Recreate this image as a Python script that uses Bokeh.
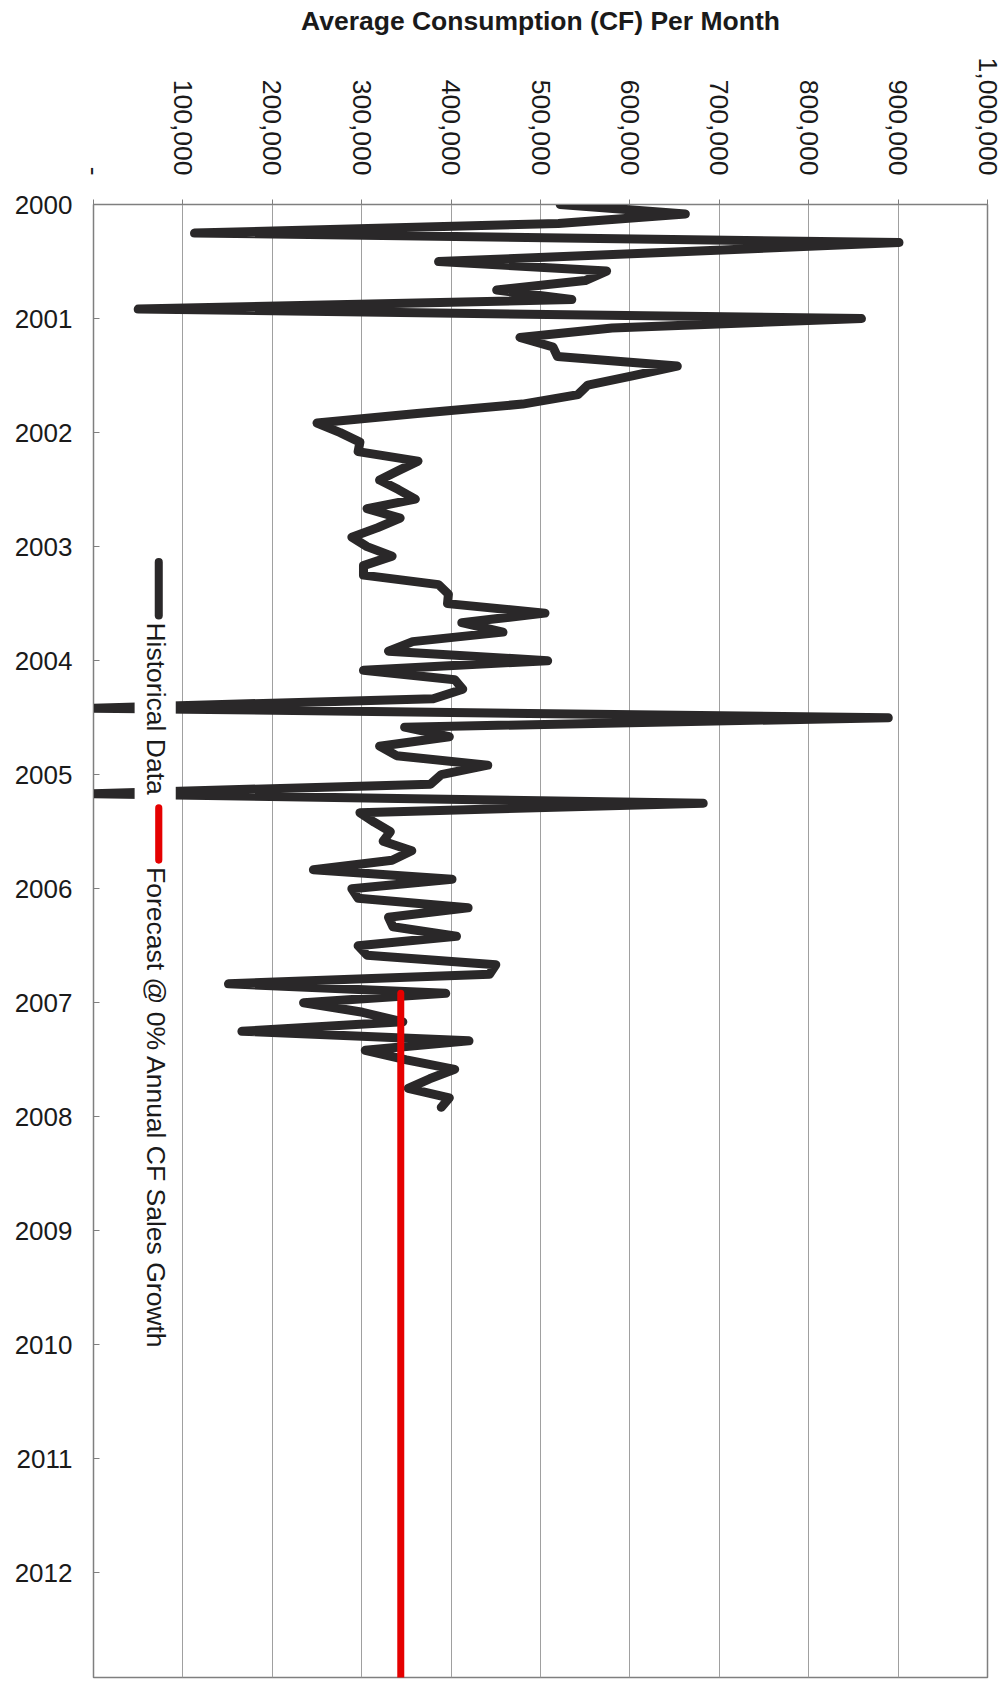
import math
import pandas as pd
from bokeh.plotting import figure
from bokeh.models import Range1d, FixedTicker, BoxAnnotation, Label
from bokeh.embed import file_html
from bokeh.resources import INLINE

# ---------------- data ----------------
hist_start = "2000-01"
hist_values = [
    522000, 662000, 520000, 113000, 901000, 650000, 386000, 574000, 550000, 451000, 535000, 50000,
    859000, 580000, 477000, 514000, 519000, 653000, 604000, 553000, 542000, 480000, 362000, 250000,
    276000, 298000, 296000, 363000, 341000, 320000, 341000, 360000, 306000, 343000, 318000, 289000,
    306000, 334000, 302000, 302000, 386000, 397000, 396000, 505000, 412000, 458000, 357000, 330000,
    508000, 302000, 404000, 413000, 380000, 0, 889000, 348000, 398000, 320000, 339000, 441000,
    389000, 377000, 0, 682000, 298000, 314000, 332000, 324000, 356000, 334000, 246000, 401000,
    289000, 296000, 419000, 330000, 335000, 406000, 296000, 306000, 450000, 443000, 151000, 394000,
    235000, 301000, 346000, 166000, 420000, 304000, 350000, 404000, 376000, 352000, 398000, 389000,
]
forecast_months = ["2006-12", "2012-12"]
forecast_values = [343700, 343700]

axis_start = "2000-01"
axis_end = "2012-12"
year_ticks = list(range(2000, 2013))
year_labels = [str(y) for y in year_ticks]
value_ticks = [0, 100000, 200000, 300000, 400000, 500000, 600000, 700000, 800000, 900000, 1000000]
value_labels = ["-", "100,000", "200,000", "300,000", "400,000", "500,000", "600,000",
                "700,000", "800,000", "900,000", "1,000,000"]
legend_labels = ["Historical Data", "Forecast @ 0% Annual CF Sales Growth"]
title_text = "Average Consumption (CF) Per Month"


def dec_year(ts):
    ts = pd.Timestamp(ts)
    return ts.year + (ts.month - 1) / 12.0


hist_months = pd.date_range(hist_start, periods=len(hist_values), freq="MS")
hist_y = [dec_year(t) for t in hist_months]
forecast_y = [dec_year(t) for t in forecast_months]

FONT = "Liberation Sans"
GRID = "#a0a0a0"
FRAME = "#7f7f7f"
TEXT = "#1a1a1a"

p = figure(
    width=1004, height=1680, title=None,
    x_range=Range1d(0, 1000000),
    y_range=Range1d(dec_year(axis_end), dec_year(axis_start)),
    x_axis_location="above",
    output_backend="svg", toolbar_location=None,
    min_border_left=93, min_border_right=17, min_border_top=204, min_border_bottom=3,
    background_fill_color="white", border_fill_color="white",
)

# top (value) axis with the chart's title as its label
xa = p.xaxis[0]
xa.axis_label = title_text
xa.axis_label_text_font = FONT
xa.axis_label_text_font_size = "26.5px"
xa.axis_label_text_font_style = "bold"
xa.axis_label_text_color = TEXT
xa.axis_label_standoff = 19
xa.ticker = FixedTicker(ticks=value_ticks)
xa.major_label_overrides = {v: l for v, l in zip(value_ticks, value_labels)}
xa.major_label_orientation = -math.pi / 2
xa.major_label_text_font = FONT
xa.major_label_text_font_size = "26.5px"
xa.major_label_text_color = TEXT
xa.major_label_standoff = 24
xa.major_tick_out = 5
xa.major_tick_in = 0
xa.minor_tick_out = 0
xa.minor_tick_in = 0
xa.axis_line_color = FRAME
xa.major_tick_line_color = FRAME

# left (date) axis
ya = p.yaxis[0]
ya.ticker = FixedTicker(ticks=year_ticks)
ya.major_label_overrides = {v: l for v, l in zip(year_ticks, year_labels)}
ya.major_label_text_font = FONT
ya.major_label_text_font_size = "26px"
ya.major_label_text_color = TEXT
ya.major_label_standoff = 21
ya.major_tick_in = 6
ya.major_tick_out = 0
ya.minor_tick_in = 0
ya.minor_tick_out = 0
ya.axis_line_color = FRAME
ya.major_tick_line_color = FRAME

p.xgrid.ticker = FixedTicker(ticks=value_ticks)
p.xgrid.grid_line_color = GRID
p.xgrid.grid_line_width = 1
p.ygrid.grid_line_color = None
p.outline_line_color = FRAME
p.outline_line_width = 1.5

# series
p.line(x=hist_values, y=hist_y, line_width=9, line_color="#2a2829",
       line_join="round", line_cap="round")
p.line(x=forecast_values, y=forecast_y, line_width=7, line_color="#e50000",
       line_cap="round")

# rotated legend (white box, samples, labels)
p.add_layout(BoxAnnotation(left=46000, right=92000, top=2003.03, bottom=2010.08,
                           fill_color="white", fill_alpha=1.0, line_color=None))
p.add_layout(BoxAnnotation(left=68500, right=77500, top=2003.10, bottom=2003.64,
                           fill_color="#2a2829", fill_alpha=1.0, line_color=None,
                           border_radius=4))
p.add_layout(BoxAnnotation(left=69000, right=77000, top=2005.26, bottom=2005.78,
                           fill_color="#e50000", fill_alpha=1.0, line_color=None,
                           border_radius=4))
p.add_layout(Label(x=70000, y=2003.665, text=legend_labels[0], angle=-math.pi / 2,
                   text_align="left", text_baseline="middle", text_font=FONT,
                   text_font_size="26.5px", text_color=TEXT))
p.add_layout(Label(x=70000, y=2005.81, text=legend_labels[1], angle=-math.pi / 2,
                   text_align="left", text_baseline="middle", text_font=FONT,
                   text_font_size="26.5px", text_color=TEXT))

open("out.html", "w").write(file_html(p, INLINE))
